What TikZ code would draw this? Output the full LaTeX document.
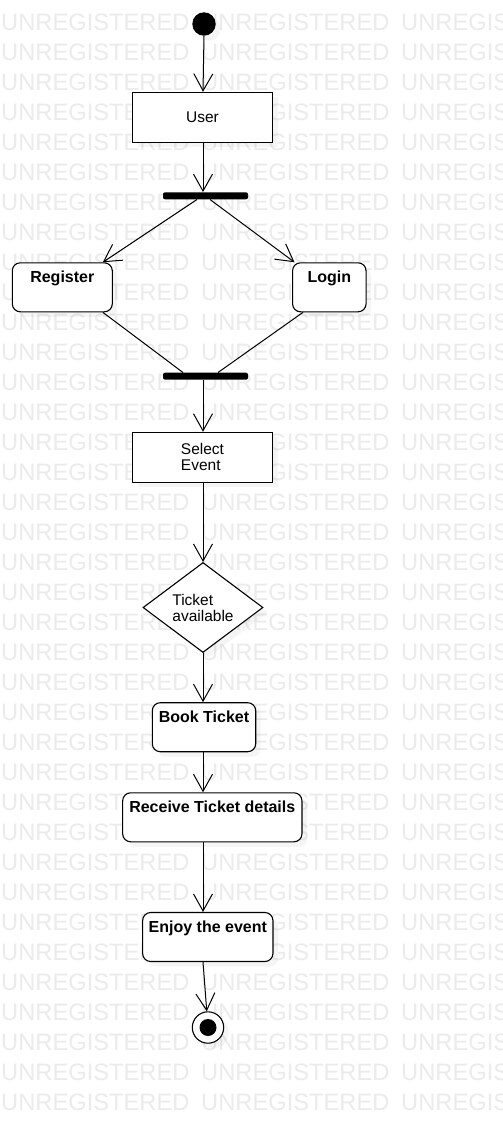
\documentclass[tikz,border=0pt]{standalone}
\usepackage{fontspec}
\setmainfont{Liberation Sans}
\usetikzlibrary{arrows.meta,shapes.geometric,shadows}

\tikzset{
  wmark/.style={anchor=base west,inner sep=0pt,text=black!8,font=\fontsize{23.7}{24}\selectfont},
  plain/.style={draw,line width=1.1pt,fill=white,inner sep=0pt,font=\fontsize{15.5}{16}\selectfont,
    drop shadow={opacity=0.08,shadow xshift=5pt,shadow yshift=-5pt}},
  actbox/.style={plain,rounded corners=8pt,text height=20pt,text depth=29pt,font=\bfseries\fontsize{16}{18}\selectfont},
  bar/.style={fill=black,rounded corners=2pt,minimum width=85pt,minimum height=7pt,inner sep=0pt},
  arr/.style={line width=1pt,-{Straight Barb[length=17pt,width=19pt]}},
  flow/.style={line width=1pt}
}

\begin{document}
\begin{tikzpicture}[x=1pt,y=-1pt]
  \clip (0,0) rectangle (503,1133);
  \fill[white] (0,0) rectangle (503,1133);
  % watermark
  \foreach \r in {0,...,36}
    \foreach \c in {0,1,2}
      \node[wmark] at (1+200*\c,30+30*\r) {UNREGISTERED};

  \coordinate (axis) at (203,0);
  \node (init) at (204,24) [circle,fill=black,inner sep=0pt,minimum size=23.4pt,
    drop shadow={opacity=0.08,shadow xshift=5pt,shadow yshift=-5pt}] {};
  \node (user) at (202.5,117.3) [plain,minimum width=140pt,minimum height=50pt] {User};
  \node (fork) at (205.5,195.8) [bar] {};
  \node (reg) at (62.3,287.3) [actbox,minimum width=100pt] {Register};
  \node (login) at (329.3,287.3) [actbox,minimum width=73.5pt] {Login};
  \node (join) at (205.5,376.2) [bar] {};
  \node (select) at (202.5,457.3) [plain,minimum width=140pt,minimum height=50pt,align=left] {Select\\Event};
  \node (ticket) at (203,607.5) [plain,diamond,minimum width=120pt,minimum height=90pt,align=left] {Ticket\\available};
  \node (book) at (204,727.2) [actbox,minimum width=103.4pt] {Book Ticket};
  \node (recv) at (212.3,817.3) [actbox,minimum width=179.3pt] {Receive Ticket details};
  \node (enjoy) at (207.8,937) [actbox,minimum width=130.3pt] {Enjoy the event};
  \node (fin) at (208,1027.5) [circle,draw,line width=1.1pt,fill=white,inner sep=0pt,minimum size=31.4pt,
    drop shadow={opacity=0.08,shadow xshift=5pt,shadow yshift=-5pt}] {};
  \fill (fin) circle (8.5pt);

  \draw[arr] (init.south) -- (user.north -| axis);
  \draw[arr] (user.south -| axis) -- (fork.north -| axis);
  \draw[arr] ([xshift=-8.5pt]fork.south) -- ([xshift=-10pt]reg.north east);
  \draw[arr] ([xshift=4.5pt]fork.south) -- ([xshift=2.5pt]login.north west);
  \draw[flow] ([xshift=-10pt]reg.south east) -- ([xshift=-22.5pt]join.north);
  \draw[flow] ([xshift=11pt]login.south west) -- ([xshift=12.5pt]join.north);
  \draw[arr] (join.south -| axis) -- (select.north -| axis);
  \draw[arr] (select.south -| axis) -- (ticket.north);
  \draw[arr] (ticket.south) -- (book.north -| axis);
  \draw[arr] (book.south -| axis) -- (recv.north -| axis);
  \draw[arr] (recv.south -| axis) -- (enjoy.north -| axis);
  \draw[arr] (enjoy.south -| axis) -- (fin);
\end{tikzpicture}
\end{document}
